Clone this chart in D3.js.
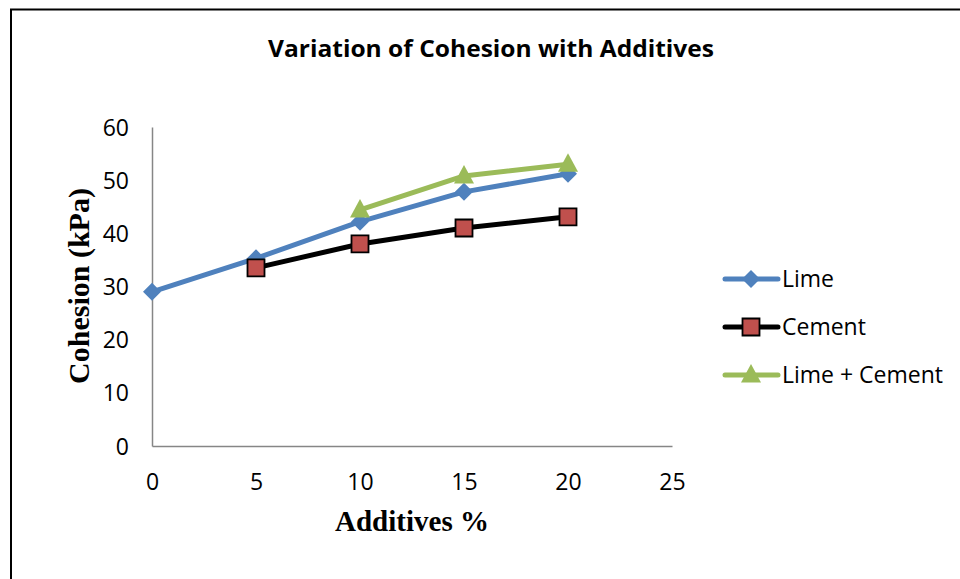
<!DOCTYPE html>
<html>
<head>
<meta charset="utf-8">
<script src="https://cdn.jsdelivr.net/npm/d3@7"></script>
<style>
  html, body { margin: 0; padding: 0; background: #fff; }
  svg { display: block; }
</style>
</head>
<body>
<svg id="chart" width="960" height="579"></svg>
<script>
// Additive content (%) and measured cohesion (kPa)
const additives = [0, 5, 10, 15, 20];
const limeValues = [29, 35.3, 42.2, 47.8, 51.2];
const cementValues = [null, 33.5, 38, 41, 43.1];
const limeCementValues = [null, null, 44.4, 50.8, 53];
const xTicks = [0, 5, 10, 15, 20, 25];
const yTicks = [0, 10, 20, 30, 40, 50, 60];
const seriesNames = ["Lime", "Cement", "Lime + Cement"];

const series = [
  { name: seriesNames[0], values: limeValues, line: "#4F81BD", fill: "#4F81BD", stroke: "none", marker: "diamond" },
  { name: seriesNames[1], values: cementValues, line: "#000000", fill: "#C0504D", stroke: "#000", marker: "square" },
  { name: seriesNames[2], values: limeCementValues, line: "#9BBB59", fill: "#9BBB59", stroke: "none", marker: "triangle" }
];

const sans = "'Open Sans', sans-serif";
const serif = "'Liberation Serif', 'Times New Roman', serif";

const svg = d3.select("#chart");

// outer chart frame (extends past the right and bottom edges)
svg.append("path")
  .attr("d", "M11,585 L11,9.5 L965,9.5")
  .attr("fill", "none").attr("stroke", "#000").attr("stroke-width", 2);

const x = d3.scaleLinear().domain([0, 25]).range([152, 672]);
const y = d3.scaleLinear().domain([0, 60]).range([446, 127]);

// title
svg.append("text")
  .attr("x", 491).attr("y", 57)
  .attr("text-anchor", "middle")
  .attr("font-family", sans)
  .attr("font-weight", "bold")
  .attr("font-size", 24)
  .attr("textLength", 446).attr("lengthAdjust", "spacingAndGlyphs")
  .text("Variation of Cohesion with Additives");

// axes (no tick marks, gray lines)
const xAxis = svg.append("g").attr("transform", "translate(0,446)")
  .call(d3.axisBottom(x).tickValues(xTicks).tickSize(0));
const yAxis = svg.append("g").attr("transform", "translate(152,0)")
  .call(d3.axisLeft(y).tickValues(yTicks).tickSize(0));

[xAxis, yAxis].forEach(g => {
  g.select(".domain").attr("stroke", "#868686").attr("stroke-width", 1.5);
  g.selectAll("text")
    .attr("font-family", sans)
    .attr("font-size", 23)
    .attr("fill", "#000");
});
xAxis.selectAll("text").attr("dy", "0.35em").attr("y", 36);
yAxis.selectAll("text").attr("x", -23).attr("dy", "0.35em");

// axis titles
svg.append("text")
  .attr("x", 412).attr("y", 531)
  .attr("text-anchor", "middle")
  .attr("font-family", serif)
  .attr("font-weight", "bold")
  .attr("font-size", 29)
  .text("Additives %");

svg.append("text")
  .attr("transform", "translate(89,286) rotate(-90)")
  .attr("text-anchor", "middle")
  .attr("font-family", serif)
  .attr("font-weight", "bold")
  .attr("font-size", 30)
  .text("Cohesion (kPa)");

// marker shapes
function markerPath(kind) {
  if (kind === "diamond") return "M0,-9 L9,0 L0,9 L-9,0 Z";
  if (kind === "square") return "M-8.5,-8.5 L8.5,-8.5 L8.5,8.5 L-8.5,8.5 Z";
  return "M0,-11 L10,7.5 L-10,7.5 Z";
}

const line = d3.line()
  .defined(d => d.v !== null)
  .x(d => x(d.a))
  .y(d => y(d.v));

series.forEach(s => {
  const pts = additives.map((a, i) => ({ a, v: s.values[i] }));
  const g = svg.append("g");
  g.append("path")
    .datum(pts)
    .attr("d", line)
    .attr("fill", "none")
    .attr("stroke", s.line)
    .attr("stroke-width", 5)
    .attr("stroke-linejoin", "round");
  g.selectAll("path.mk")
    .data(pts.filter(d => d.v !== null))
    .join("path")
    .attr("class", "mk")
    .attr("transform", d => `translate(${x(d.a)},${y(d.v)})`)
    .attr("d", markerPath(s.marker))
    .attr("fill", s.fill)
    .attr("stroke", s.stroke)
    .attr("stroke-width", s.stroke === "none" ? 0 : 1.8);
});

// legend
const legendY = [279, 327, 375];
series.forEach((s, i) => {
  const g = svg.append("g").attr("transform", `translate(0,${legendY[i]})`);
  g.append("line")
    .attr("x1", 725).attr("x2", 778)
    .attr("stroke", s.line).attr("stroke-width", 5).attr("stroke-linecap", "round");
  g.append("path")
    .attr("transform", "translate(751,0)")
    .attr("d", markerPath(s.marker))
    .attr("fill", s.fill)
    .attr("stroke", s.stroke)
    .attr("stroke-width", s.stroke === "none" ? 0 : 1.8);
  g.append("text")
    .attr("x", 782).attr("y", 0).attr("dy", "0.35em")
    .attr("font-family", sans)
    .attr("font-size", 23)
    .text(s.name);
});
</script>
</body>
</html>
